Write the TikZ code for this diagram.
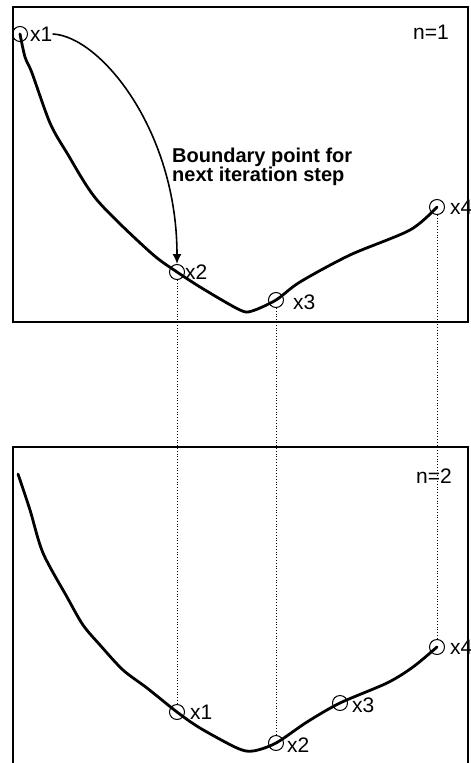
\documentclass[tikz,border=0pt]{standalone}
\usepackage{fontspec}
\setmainfont{Liberation Sans}
\usetikzlibrary{arrows.meta,positioning}

\begin{document}
\begin{tikzpicture}[x=1pt,y=-1pt,>={Latex[length=10pt,width=9pt]},
  frame/.style={line width=1.4pt},
  curve/.style={line width=2.8pt,line join=round,line cap=round},
  pt/.style={circle,draw,line width=1pt,minimum size=15pt,inner sep=0pt},
  lbl/.style={inner sep=0pt,font=\fontsize{21}{23}\selectfont},
  guide/.style={dotted,line width=0.8pt}]
  \useasboundingbox (0,0) rectangle (471,763);
  % panels
  \draw[frame] (13,7) rectangle (468,322);
  \draw[frame] (13,775) |- (468,447) -- (468,775);
  \node[lbl,anchor=east] (n1) at (449,32) {n=1};
  \node[lbl,anchor=east] (n2) at (452,476) {n=2};
  % iteration n=1
  \node[pt] (a1) at (20,34) {};
  \node[pt] (a2) at (177,272) {};
  \node[pt] (a3) at (276,300) {};
  \node[pt] (a4) at (437,207) {};
  \draw[curve] plot[smooth,tension=.5] coordinates {(a1.center) (25,57) (32,73)
    (50,123) (67,153) (97,200) (150,252) (a2.center) (205,290) (240,310)
    (252,311) (a3.center) (300,282) (350,255) (410,230) (a4.center)};
  \node[lbl,right=2pt of a1] (t1) {x1};
  \node[lbl,right=0pt of a2] (t2) {x2};
  \node[lbl,right=9pt of a3,yshift=-2pt] (t3) {x3};
  \node[lbl,right=5pt of a4] (t4) {x4};
  \draw[line width=1.6pt,->] (t1.east) .. controls (100,36) and (177,130) .. (a2.north);
  \node[inner sep=0pt,anchor=north west,align=left,
    font=\bfseries\fontsize{20}{19}\selectfont] (note) at (172,148)
    {Boundary point for\\next iteration step};
  % iteration n=2
  \node[pt] (b1) at (177,712) {};
  \node[pt] (b2) at (276,743) {};
  \node[pt] (b3) at (340,703) {};
  \node[pt] (b4) at (437,647) {};
  \draw[curve] plot[smooth,tension=.5] coordinates {(18,474) (30,510) (43,553)
    (67,597) (83,625) (100,645) (123,670) (147,688) (b1.center) (200,728)
    (237,748) (253,751) (b2.center) (307,722) (b3.center) (387,683) (413,667)
    (b4.center)};
  \node[lbl,right=5pt of b1] (u1) {x1};
  \node[lbl,right=3pt of b2,yshift=-2pt] (u2) {x2};
  \node[lbl,right=4pt of b3,yshift=-2pt] (u3) {x3};
  \node[lbl,right=5pt of b4] (u4) {x4};
  % projections
  \draw[guide] (a2) -- (b1);
  \draw[guide] (a3) -- (b2);
  \draw[guide] (a4) -- (b4);
\end{tikzpicture}
\end{document}
